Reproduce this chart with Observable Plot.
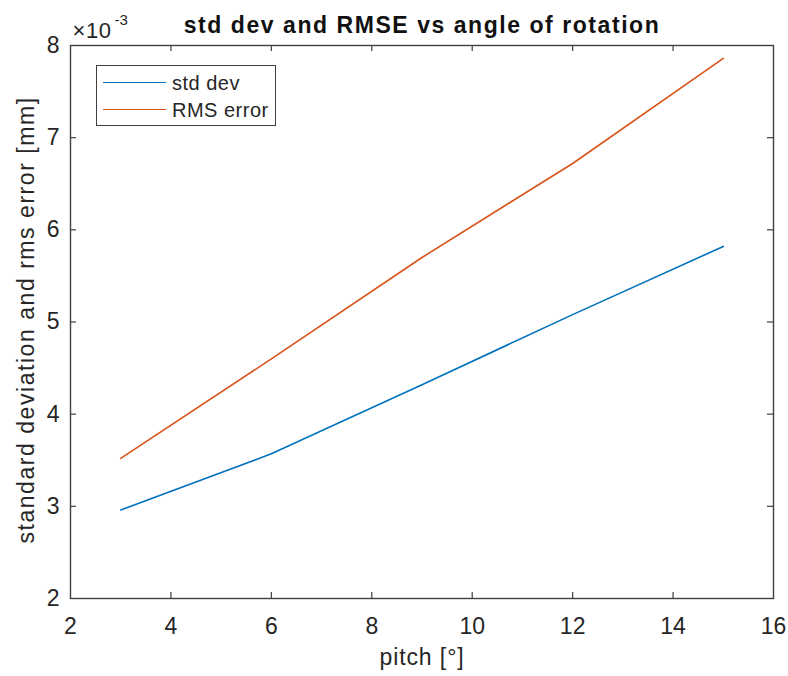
<!DOCTYPE html>
<html>
<head>
<meta charset="utf-8">
<script src="https://cdn.jsdelivr.net/npm/d3@7"></script>
<script src="https://cdn.jsdelivr.net/npm/@observablehq/plot@0.6"></script>
<style>
  html, body { margin: 0; padding: 0; background: #fff; }
  #chart { position: relative; width: 788px; height: 676px; font-family: "Liberation Sans", Arial, Helvetica, sans-serif; color: #262626; }
  .legend { position: absolute; left: 96px; top: 65px; width: 178px; height: 59px; border: 1px solid #404040; background: #fff; }
  .legend .row { position: absolute; left: 0; height: 24px; width: 178px; }
  .legend .swatch { position: absolute; left: 6px; width: 63px; top: 11px; height: 0; border-top: 1.5px solid; }
  .legend .name { position: absolute; left: 75px; top: 0; font-size: 20px; line-height: 24px; letter-spacing: 0.5px; color: #262626; white-space: nowrap; }
</style>
</head>
<body>
<div id="chart"></div>
<script>
// Pitch angles (degrees) and the two error measures (mm)
const pitch = [3, 6, 9, 12, 15];
const stdDev = [0.00296, 0.00357, 0.00432, 0.00508, 0.00582];
const rmsError = [0.00352, 0.00460, 0.00570, 0.00672, 0.00786];
const seriesNames = ["std dev", "RMS error"];
const seriesColors = ["#0072BD", "#D95319"];

const xTicks = [2, 4, 6, 8, 10, 12, 14, 16];
const yTicks = [0.002, 0.003, 0.004, 0.005, 0.006, 0.007, 0.008];

const titleText = "std dev and RMSE vs angle of rotation";
const xLabelText = "pitch [°]";
const yLabelText = "standard deviation and rms error [mm]";
const exponentBase = "×10";
const exponentPower = "-3";

const W = 788, H = 676;
const M = {left: 70, right: 15, top: 45, bottom: 78};
const frameW = W - M.left - M.right;
const frameH = H - M.top - M.bottom;
const tickLen = 6;
const axisColor = "#404040";

const rows = [
  ...pitch.map((p, i) => ({pitch: p, value: stdDev[i], series: seriesNames[0]})),
  ...pitch.map((p, i) => ({pitch: p, value: rmsError[i], series: seriesNames[1]}))
];

const innerX = xTicks.slice(1, -1);
const innerY = yTicks.slice(1, -1);

const chart = Plot.plot({
  width: W,
  height: H,
  marginLeft: M.left,
  marginRight: M.right,
  marginTop: M.top,
  marginBottom: M.bottom,
  style: {fontFamily: "'Liberation Sans', Arial, Helvetica, sans-serif", color: "#262626", background: "#fff"},
  x: {domain: [2, 16]},
  y: {domain: [0.002, 0.008]},
  color: {domain: seriesNames, range: seriesColors},
  marks: [
    Plot.frame({stroke: axisColor, strokeWidth: 1.4}),
    // inward tick marks on all four sides
    Plot.tickX(innerX, {x: d => d, insetTop: frameH - tickLen, stroke: axisColor, strokeWidth: 1.2}),
    Plot.tickX(innerX, {x: d => d, insetBottom: frameH - tickLen, stroke: axisColor, strokeWidth: 1.2}),
    Plot.tickY(innerY, {y: d => d, insetRight: frameW - tickLen, stroke: axisColor, strokeWidth: 1.2}),
    Plot.tickY(innerY, {y: d => d, insetLeft: frameW - tickLen, stroke: axisColor, strokeWidth: 1.2}),
    Plot.axisX({ticks: xTicks, tickSize: 0, tickPadding: 19, fontSize: 23, label: null, fill: "#262626"}),
    Plot.axisY({ticks: yTicks, tickSize: 0, tickPadding: 11, fontSize: 23, label: null, fill: "#262626", tickFormat: d => d3.format("d")(Math.round(d * 1000))}),
    Plot.line(rows, {x: "pitch", y: "value", z: "series", stroke: "series", strokeWidth: 1.6}),
    // exponent of the y scale
    Plot.text([exponentBase], {frameAnchor: "top-left", dx: 2, dy: -15, textAnchor: "start", lineAnchor: "middle", fontSize: 22, fill: "#262626"}),
    Plot.text([exponentPower], {frameAnchor: "top-left", dx: 44, dy: -25, textAnchor: "start", lineAnchor: "middle", fontSize: 15, fill: "#262626"}),
    Plot.text([titleText], {frameAnchor: "top", dy: -20, textAnchor: "middle", lineAnchor: "middle", fontSize: 23, fontWeight: "bold", fill: "#111"}),
    Plot.text([xLabelText], {frameAnchor: "bottom", dy: 59, textAnchor: "middle", lineAnchor: "middle", fontSize: 23, fill: "#262626"}),
    Plot.text([yLabelText], {frameAnchor: "left", dx: -44, dy: -2, rotate: -90, textAnchor: "middle", lineAnchor: "middle", fontSize: 23, fill: "#262626"})
  ]
});

// wider letter spacing for the title, axis labels and exponent
const spacing = new Map([
  [titleText, "1.55px"],
  [yLabelText, "1.55px"],
  [xLabelText, "0.9px"],
  [exponentBase, "0.6px"]
]);
d3.select(chart).selectAll("text").each(function () {
  const s = spacing.get(this.textContent);
  if (s) this.style.letterSpacing = s;
});

const root = document.getElementById("chart");
root.appendChild(chart);

// legend box in the upper-left corner of the axes
const legend = document.createElement("div");
legend.className = "legend";
seriesNames.forEach((name, i) => {
  const row = document.createElement("div");
  row.className = "row";
  row.style.top = (5 + i * 27) + "px";
  const sw = document.createElement("div");
  sw.className = "swatch";
  sw.style.borderTopColor = seriesColors[i];
  const label = document.createElement("div");
  label.className = "name";
  label.textContent = name;
  row.appendChild(sw);
  row.appendChild(label);
  legend.appendChild(row);
});
root.appendChild(legend);
</script>
</body>
</html>
